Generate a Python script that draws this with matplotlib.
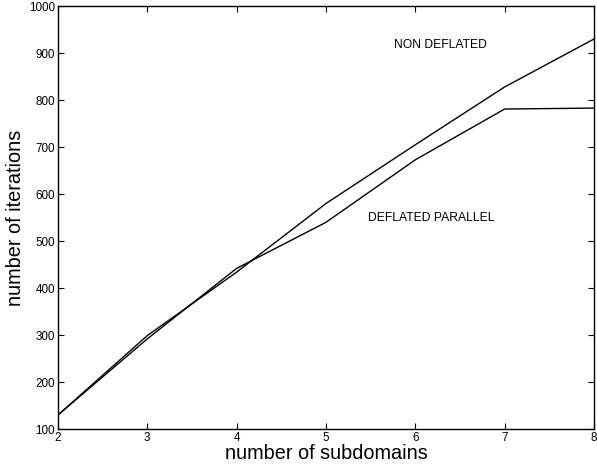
import matplotlib
matplotlib.use("Agg")
import matplotlib.pyplot as plt

plt.rcParams["font.family"] = ["Liberation Sans", "DejaVu Sans"]

subdomains = [2, 3, 4, 5, 6, 7, 8]
non_deflated = [130, 299, 434, 580, 705, 828, 930]
deflated_parallel = [130, 292, 442, 540, 673, 781, 783]

fig = plt.figure(figsize=(5.97, 4.68), dpi=100)
ax = fig.add_axes([0.097, 0.083, 0.898, 0.904])

ax.plot(subdomains, non_deflated, color="black", linewidth=1.0)
ax.plot(subdomains, deflated_parallel, color="black", linewidth=1.0)

ax.text(6.28, 917, "NON DEFLATED", fontsize=8.7, ha="center", va="center")
ax.text(6.18, 550, "DEFLATED PARALLEL", fontsize=8.7, ha="center", va="center")

ax.set_xlim(2, 8)
ax.set_ylim(100, 1000)
ax.set_xticks(range(2, 9))
ax.set_yticks(range(100, 1001, 100))
ax.tick_params(direction="in", top=True, right=True, labelsize=8.4, length=4, pad=2)
ax.set_xlabel("number of subdomains", fontsize=14.3, labelpad=0)
ax.set_ylabel("number of iterations", fontsize=14.3, labelpad=3)
for s in ax.spines.values():
    s.set_linewidth(1.0)

fig.savefig("out.png", dpi=100)
